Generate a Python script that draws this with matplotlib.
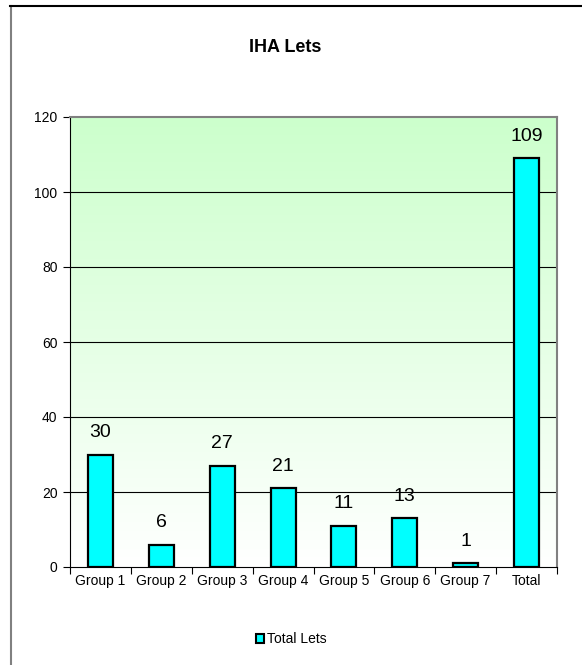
import numpy as np
import matplotlib.pyplot as plt
from matplotlib.patches import Patch
from matplotlib.lines import Line2D

plt.rcParams['font.family'] = ['Liberation Sans', 'DejaVu Sans']

# lets per group plus the overall total
groups = ['Group 1', 'Group 2', 'Group 3', 'Group 4', 'Group 5', 'Group 6', 'Group 7', 'Total']
lets = [30, 6, 27, 21, 11, 13, 1, 109]
yticks = [0, 20, 40, 60, 80, 100, 120]

fig = plt.figure(figsize=(5.82, 6.65), dpi=100)
ax = fig.add_axes([70/582, 1-567/665, 487/582, 450/665])

# green to white background fill
grad = np.linspace(0, 1, 256).reshape(-1, 1)
top = np.array([0.8, 1.0, 0.8])
bot = np.array([1.0, 1.0, 1.0])
img = top[None, None, :] * (1 - grad[:, :, None]) + bot[None, None, :] * grad[:, :, None]
ax.imshow(img, extent=[0, 1, 0, 1], transform=ax.transAxes, aspect='auto', zorder=0)

x = np.arange(len(groups))
for v in yticks[1:-1]:
    ax.axhline(v, color='black', lw=0.8, zorder=1)
ax.bar(x, lets, width=0.41, color='#00ffff', edgecolor='black', linewidth=1.6, zorder=2)
for xi, v in zip(x, lets):
    ax.annotate(str(v), (xi, v), xytext=(0, 16), textcoords='offset points',
                ha='center', va='center', fontsize=14)

ax.set_xlim(-0.5, len(groups) - 0.5)
ax.set_ylim(0, 120)
ax.set_yticks(yticks)
ax.tick_params(axis='y', labelsize=10, length=5, width=0.8, pad=4)
ax.set_xticks(np.arange(len(groups) + 1) - 0.5)
ax.set_xticklabels([])
ax.set_xticks(x, minor=True)
ax.set_xticklabels(groups, minor=True)
ax.tick_params(axis='x', which='major', length=5, width=0.8)
ax.tick_params(axis='x', which='minor', length=0, labelsize=10, pad=5)

ax.spines['left'].set_color('black')
ax.spines['bottom'].set_color('black')
for s in ['top', 'right']:
    ax.spines[s].set_color('#808080')
    ax.spines[s].set_linewidth(1.5)

fig.text(0.49, 1-47/665, 'IHA Lets', ha='center', va='center', fontsize=13, fontweight='bold')

fig.legend(handles=[Patch(facecolor='#00ffff', edgecolor='black', linewidth=1.5, label='Total Lets')],
           loc='center', bbox_to_anchor=(0.5, 1-639/665), frameon=False, fontsize=10,
           handlelength=0.6, handleheight=0.6, handletextpad=0.2)

# outer chart frame
fig.add_artist(Line2D([11/582, 11/582], [0, 1-6/665], color='#808080', lw=1.5))
fig.add_artist(Line2D([10/582, 1], [1-6/665, 1-6/665], color='black', lw=1.5))

fig.savefig('out.png', dpi=100)
